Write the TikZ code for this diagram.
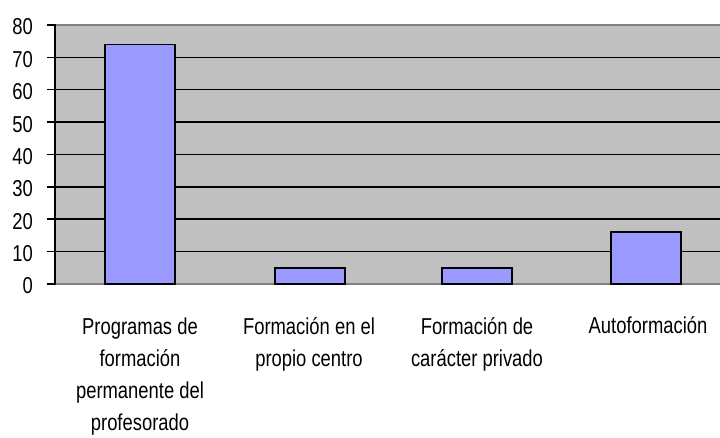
\documentclass[tikz,border=0pt]{standalone}
\usepackage{fontspec}
\setmainfont{Liberation Sans}[FakeStretch=0.8]
\begin{document}
\begin{tikzpicture}[x=1pt,y=-1pt,
    barbox/.style={draw=black,line width=1.5pt,fill={rgb,255:red,153;green,153;blue,255}},
    gridline/.style={draw=black,line width=1.5pt},
    ytick/.style={anchor=base east,inner sep=0pt,font=\fontsize{23}{32}\selectfont},
    catlabel/.style={anchor=base,inner sep=0pt,align=center,font=\fontsize{23}{32}\selectfont}]
	\useasboundingbox (0,0) rectangle (720,438);
	%Shape: Rectangle [plot area]
	\fill [color={rgb,255:red,192;green,192;blue,192}] (55,25) rectangle (720,284);
	\draw [color={rgb,255:red,128;green,128;blue,128},line width=1.2pt] (55,25) -- (720,25) (55,284) -- (720,284);
	%Straight Lines [grid]
	\draw [gridline] (47,251.6) -- (720,251.6);
	\draw [gridline] (47,219.25) -- (720,219.25);
	\draw [gridline] (47,186.9) -- (720,186.9);
	\draw [gridline] (47,154.5) -- (720,154.5);
	\draw [gridline] (47,122.1) -- (720,122.1);
	\draw [gridline] (47,89.75) -- (720,89.75);
	\draw [gridline] (47,57.4) -- (720,57.4);
	\draw [gridline] (47,25) -- (55,25);
	\draw [gridline] (47,284) -- (55,284);
	%Shape: Rectangle [bars]
	\draw [barbox] (105,284) rectangle (175,44.4);
	\draw [barbox] (275,284) rectangle (345,267.8);
	\draw [barbox] (442,284) rectangle (512,267.8);
	\draw [barbox] (611,284) rectangle (681,232.2);
	%Straight Lines [axis]
	\draw [gridline] (55,24.25) -- (55,284.75);

	% Text Node
	\node [ytick] (y0) at (33,294) {0};
	% Text Node
	\node [ytick] (y10) at (33,261.6) {10};
	% Text Node
	\node [ytick] (y20) at (33,229.25) {20};
	% Text Node
	\node [ytick] (y30) at (33,196.9) {30};
	% Text Node
	\node [ytick] (y40) at (33,164.5) {40};
	% Text Node
	\node [ytick] (y50) at (33,132.1) {50};
	% Text Node
	\node [ytick] (y60) at (33,99.75) {60};
	% Text Node
	\node [ytick] (y70) at (33,67.4) {70};
	% Text Node
	\node [ytick] (y80) at (33,35) {80};

	% Text Node (base = last line)
	\node [catlabel] (programas) at (140,430) {Programas de\\formación\\permanente del\\profesorado};
	% Text Node
	\node [catlabel] (centro) at (309,366) {Formación en el\\propio centro};
	% Text Node
	\node [catlabel] (privado) at (477,366) {Formación de\\carácter privado};
	% Text Node
	\node [catlabel] (auto) at (648,334) {Autoformación};
\end{tikzpicture}
\end{document}
